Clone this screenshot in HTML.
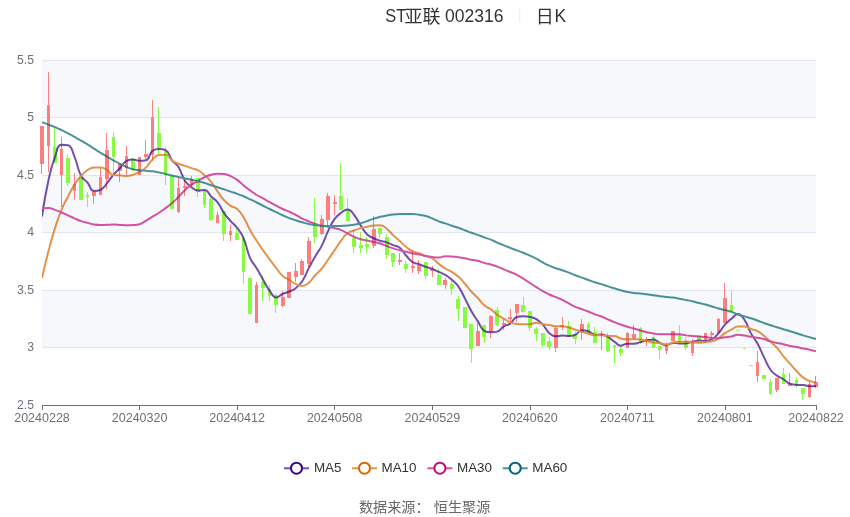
<!DOCTYPE html>
<html lang="zh"><head><meta charset="utf-8"><title>ST亚联 002316 日K</title>
<style>html,body{margin:0;padding:0;background:#fff}body{width:850px;height:517px;overflow:hidden;font-family:"Liberation Sans",sans-serif}svg{display:block}text{font-family:"Liberation Sans",sans-serif}#chart{position:relative;width:850px;height:517px}#chart svg{position:absolute;left:0;top:0}#labels{will-change:transform}</style></head><body>
<div id="chart"><svg id="plot" width="850" height="517" viewBox="0 0 850 517">
<rect width="850" height="517" fill="#fff"/>
<g fill="#f6f8fc">
<rect x="42" y="60.0" width="774" height="57.5"/>
<rect x="42" y="175.0" width="774" height="57.5"/>
<rect x="42" y="290.0" width="774" height="57.5"/>
</g>
<g stroke="#e0e6f1" stroke-width="1" shape-rendering="crispEdges">
<line x1="42" x2="816" y1="60.5" y2="60.5"/>
<line x1="42" x2="816" y1="117.5" y2="117.5"/>
<line x1="42" x2="816" y1="175.5" y2="175.5"/>
<line x1="42" x2="816" y1="232.5" y2="232.5"/>
<line x1="42" x2="816" y1="290.5" y2="290.5"/>
<line x1="42" x2="816" y1="347.5" y2="347.5"/>
</g>
<g fill="#fc7f7f"><rect x="41.0" y="126.0" width="1" height="48.0"/><rect x="40.0" y="126.0" width="4.0" height="38.0"/></g>
<g fill="#fc7f7f"><rect x="48.0" y="72.0" width="1" height="100.0"/><rect x="47.0" y="105.0" width="3.0" height="41.0"/></g>
<g fill="#88fa42"><rect x="54.0" y="127.0" width="1" height="36.0"/><rect x="53.0" y="147.0" width="4.0" height="16.0"/></g>
<g fill="#fc7f7f"><rect x="61.0" y="137.0" width="1" height="70.0"/><rect x="60.0" y="149.0" width="3.0" height="26.0"/></g>
<g fill="#88fa42"><rect x="67.0" y="155.0" width="1" height="31.0"/><rect x="66.0" y="158.0" width="4.0" height="25.0"/></g>
<g fill="#fc7f7f"><rect x="74.0" y="173.0" width="1" height="27.0"/><rect x="73.0" y="184.0" width="3.0" height="7.0"/></g>
<g fill="#88fa42"><rect x="79.0" y="177.0" width="4.0" height="23.0"/></g>
<g fill="#88fa42"><rect x="87.0" y="192.0" width="1" height="15.0"/><rect x="86.0" y="195.0" width="3.0" height="2.0"/></g>
<g fill="#fc7f7f"><rect x="93.0" y="191.0" width="1" height="13.0"/><rect x="92.0" y="192.0" width="4.0" height="4.0"/></g>
<g fill="#fc7f7f"><rect x="100.0" y="168.0" width="1" height="27.0"/><rect x="99.0" y="177.0" width="3.0" height="18.0"/></g>
<g fill="#fc7f7f"><rect x="106.0" y="133.0" width="1" height="56.0"/><rect x="105.0" y="150.0" width="4.0" height="29.0"/></g>
<g fill="#88fa42"><rect x="113.0" y="132.0" width="1" height="41.0"/><rect x="112.0" y="137.0" width="3.0" height="20.0"/></g>
<g fill="#fc7f7f"><rect x="119.0" y="164.0" width="1" height="18.0"/><rect x="118.0" y="164.0" width="4.0" height="7.0"/></g>
<g fill="#fc7f7f"><rect x="126.0" y="146.0" width="1" height="29.0"/><rect x="125.0" y="156.0" width="3.0" height="12.0"/></g>
<g fill="#88fa42"><rect x="132.0" y="158.0" width="1" height="13.0"/><rect x="131.0" y="159.0" width="4.0" height="11.0"/></g>
<g fill="#fc7f7f"><rect x="138.0" y="157.0" width="3.0" height="18.0"/></g>
<g fill="#fc7f7f"><rect x="145.0" y="140.0" width="1" height="19.0"/><rect x="144.0" y="154.0" width="4.0" height="3.0"/></g>
<g fill="#fc7f7f"><rect x="152.0" y="100.0" width="1" height="61.0"/><rect x="151.0" y="117.0" width="3.0" height="38.0"/></g>
<g fill="#88fa42"><rect x="158.0" y="107.0" width="1" height="47.0"/><rect x="157.0" y="133.0" width="4.0" height="15.0"/></g>
<g fill="#88fa42"><rect x="165.0" y="147.0" width="1" height="38.0"/><rect x="164.0" y="151.0" width="3.0" height="24.0"/></g>
<g fill="#88fa42"><rect x="170.0" y="176.0" width="4.0" height="33.0"/></g>
<g fill="#fc7f7f"><rect x="178.0" y="178.0" width="1" height="35.0"/><rect x="177.0" y="188.0" width="3.0" height="24.0"/></g>
<g fill="#fc7f7f"><rect x="184.0" y="180.0" width="1" height="16.0"/><rect x="183.0" y="186.0" width="4.0" height="2.0"/></g>
<g fill="#fc7f7f"><rect x="191.0" y="176.0" width="1" height="10.0"/><rect x="190.0" y="179.0" width="3.0" height="6.0"/></g>
<g fill="#88fa42"><rect x="197.0" y="178.0" width="1" height="19.0"/><rect x="196.0" y="178.0" width="4.0" height="14.0"/></g>
<g fill="#88fa42"><rect x="204.0" y="190.0" width="1" height="18.0"/><rect x="203.0" y="191.0" width="3.0" height="14.0"/></g>
<g fill="#88fa42"><rect x="210.0" y="198.0" width="1" height="23.0"/><rect x="209.0" y="199.0" width="4.0" height="21.0"/></g>
<g fill="#fc7f7f"><rect x="217.0" y="212.0" width="1" height="11.0"/><rect x="216.0" y="215.0" width="3.0" height="8.0"/></g>
<g fill="#88fa42"><rect x="223.0" y="211.0" width="1" height="30.0"/><rect x="222.0" y="211.0" width="4.0" height="23.0"/></g>
<g fill="#fc7f7f"><rect x="230.0" y="225.0" width="1" height="16.0"/><rect x="229.0" y="231.0" width="3.0" height="4.0"/></g>
<g fill="#88fa42"><rect x="236.0" y="228.0" width="1" height="12.0"/><rect x="235.0" y="233.0" width="4.0" height="7.0"/></g>
<g fill="#88fa42"><rect x="243.0" y="236.0" width="1" height="48.0"/><rect x="242.0" y="238.0" width="3.0" height="34.0"/></g>
<g fill="#88fa42"><rect x="248.0" y="278.0" width="4.0" height="36.0"/></g>
<g fill="#fc7f7f"><rect x="256.0" y="282.0" width="1" height="41.0"/><rect x="255.0" y="285.0" width="3.0" height="38.0"/></g>
<g fill="#88fa42"><rect x="262.0" y="276.0" width="1" height="25.0"/><rect x="261.0" y="282.0" width="4.0" height="6.0"/></g>
<g fill="#88fa42"><rect x="269.0" y="285.0" width="1" height="16.0"/><rect x="268.0" y="289.0" width="3.0" height="7.0"/></g>
<g fill="#88fa42"><rect x="275.0" y="294.0" width="1" height="19.0"/><rect x="274.0" y="295.0" width="4.0" height="10.0"/></g>
<g fill="#fc7f7f"><rect x="282.0" y="291.0" width="1" height="16.0"/><rect x="281.0" y="297.0" width="4.0" height="9.0"/></g>
<g fill="#fc7f7f"><rect x="287.0" y="272.0" width="4.0" height="26.0"/></g>
<g fill="#fc7f7f"><rect x="295.0" y="263.0" width="1" height="19.0"/><rect x="294.0" y="271.0" width="4.0" height="6.0"/></g>
<g fill="#fc7f7f"><rect x="301.0" y="259.0" width="1" height="16.0"/><rect x="300.0" y="261.0" width="4.0" height="14.0"/></g>
<g fill="#fc7f7f"><rect x="308.0" y="237.0" width="1" height="30.0"/><rect x="307.0" y="241.0" width="4.0" height="23.0"/></g>
<g fill="#88fa42"><rect x="314.0" y="198.0" width="1" height="45.0"/><rect x="313.0" y="226.0" width="4.0" height="11.0"/></g>
<g fill="#fc7f7f"><rect x="321.0" y="215.0" width="1" height="20.0"/><rect x="320.0" y="219.0" width="4.0" height="15.0"/></g>
<g fill="#fc7f7f"><rect x="327.0" y="193.0" width="1" height="32.0"/><rect x="326.0" y="196.0" width="4.0" height="24.0"/></g>
<g fill="#fc7f7f"><rect x="334.0" y="195.0" width="1" height="20.0"/><rect x="333.0" y="202.0" width="4.0" height="2.0"/></g>
<g fill="#88fa42"><rect x="340.0" y="163.0" width="1" height="47.0"/><rect x="339.0" y="196.0" width="4.0" height="14.0"/></g>
<g fill="#88fa42"><rect x="347.0" y="198.0" width="1" height="24.0"/><rect x="346.0" y="210.0" width="4.0" height="11.0"/></g>
<g fill="#88fa42"><rect x="353.0" y="229.0" width="1" height="24.0"/><rect x="352.0" y="238.0" width="4.0" height="9.0"/></g>
<g fill="#88fa42"><rect x="360.0" y="232.0" width="1" height="21.0"/><rect x="359.0" y="245.0" width="4.0" height="3.0"/></g>
<g fill="#88fa42"><rect x="366.0" y="237.0" width="1" height="17.0"/><rect x="365.0" y="244.0" width="4.0" height="3.0"/></g>
<g fill="#fc7f7f"><rect x="373.0" y="216.0" width="1" height="32.0"/><rect x="372.0" y="229.0" width="4.0" height="17.0"/></g>
<g fill="#88fa42"><rect x="379.0" y="227.0" width="1" height="11.0"/><rect x="378.0" y="228.0" width="4.0" height="6.0"/></g>
<g fill="#88fa42"><rect x="386.0" y="234.0" width="1" height="25.0"/><rect x="385.0" y="237.0" width="4.0" height="18.0"/></g>
<g fill="#88fa42"><rect x="392.0" y="253.0" width="1" height="14.0"/><rect x="391.0" y="253.0" width="4.0" height="9.0"/></g>
<g fill="#fc7f7f"><rect x="399.0" y="253.0" width="1" height="12.0"/><rect x="398.0" y="260.0" width="4.0" height="2.0"/></g>
<g fill="#88fa42"><rect x="405.0" y="261.0" width="1" height="12.0"/><rect x="404.0" y="264.0" width="4.0" height="5.0"/></g>
<g fill="#fc7f7f"><rect x="412.0" y="250.0" width="1" height="23.0"/><rect x="411.0" y="266.0" width="4.0" height="2.0"/></g>
<g fill="#fc7f7f"><rect x="418.0" y="260.0" width="1" height="14.0"/><rect x="417.0" y="265.0" width="4.0" height="6.0"/></g>
<g fill="#88fa42"><rect x="425.0" y="262.0" width="1" height="17.0"/><rect x="424.0" y="262.0" width="4.0" height="14.0"/></g>
<g fill="#fc7f7f"><rect x="432.0" y="266.0" width="1" height="11.0"/><rect x="430.0" y="269.0" width="4.0" height="2.0"/></g>
<g fill="#88fa42"><rect x="438.0" y="269.0" width="1" height="16.0"/><rect x="437.0" y="275.0" width="4.0" height="10.0"/></g>
<g fill="#fc7f7f"><rect x="445.0" y="278.0" width="1" height="11.0"/><rect x="443.0" y="280.0" width="4.0" height="5.0"/></g>
<g fill="#88fa42"><rect x="451.0" y="281.0" width="1" height="14.0"/><rect x="450.0" y="284.0" width="4.0" height="5.0"/></g>
<g fill="#88fa42"><rect x="458.0" y="296.0" width="1" height="25.0"/><rect x="456.0" y="299.0" width="4.0" height="10.0"/></g>
<g fill="#88fa42"><rect x="463.0" y="307.0" width="4.0" height="21.0"/></g>
<g fill="#88fa42"><rect x="471.0" y="324.0" width="1" height="39.0"/><rect x="469.0" y="324.0" width="4.0" height="25.0"/></g>
<g fill="#fc7f7f"><rect x="477.0" y="323.0" width="1" height="23.0"/><rect x="476.0" y="331.0" width="4.0" height="15.0"/></g>
<g fill="#88fa42"><rect x="484.0" y="325.0" width="1" height="18.0"/><rect x="482.0" y="325.0" width="4.0" height="12.0"/></g>
<g fill="#fc7f7f"><rect x="490.0" y="315.0" width="1" height="23.0"/><rect x="489.0" y="316.0" width="4.0" height="16.0"/></g>
<g fill="#88fa42"><rect x="497.0" y="307.0" width="1" height="19.0"/><rect x="495.0" y="310.0" width="4.0" height="15.0"/></g>
<g fill="#fc7f7f"><rect x="503.0" y="319.0" width="1" height="11.0"/><rect x="502.0" y="323.0" width="4.0" height="2.0"/></g>
<g fill="#fc7f7f"><rect x="510.0" y="309.0" width="1" height="14.0"/><rect x="508.0" y="317.0" width="4.0" height="2.0"/></g>
<g fill="#fc7f7f"><rect x="516.0" y="304.0" width="1" height="18.0"/><rect x="515.0" y="304.0" width="4.0" height="9.0"/></g>
<g fill="#88fa42"><rect x="523.0" y="297.0" width="1" height="16.0"/><rect x="521.0" y="305.0" width="4.0" height="7.0"/></g>
<g fill="#88fa42"><rect x="529.0" y="311.0" width="1" height="20.0"/><rect x="528.0" y="311.0" width="4.0" height="17.0"/></g>
<g fill="#88fa42"><rect x="536.0" y="327.0" width="1" height="14.0"/><rect x="534.0" y="329.0" width="4.0" height="5.0"/></g>
<g fill="#88fa42"><rect x="542.0" y="333.0" width="1" height="14.0"/><rect x="541.0" y="333.0" width="4.0" height="12.0"/></g>
<g fill="#88fa42"><rect x="549.0" y="337.0" width="1" height="13.0"/><rect x="547.0" y="341.0" width="4.0" height="6.0"/></g>
<g fill="#fc7f7f"><rect x="555.0" y="326.0" width="1" height="26.0"/><rect x="554.0" y="328.0" width="4.0" height="20.0"/></g>
<g fill="#fc7f7f"><rect x="562.0" y="317.0" width="1" height="13.0"/><rect x="560.0" y="325.0" width="4.0" height="2.0"/></g>
<g fill="#88fa42"><rect x="568.0" y="321.0" width="1" height="16.0"/><rect x="567.0" y="326.0" width="4.0" height="10.0"/></g>
<g fill="#88fa42"><rect x="575.0" y="332.0" width="1" height="12.0"/><rect x="573.0" y="334.0" width="4.0" height="5.0"/></g>
<g fill="#fc7f7f"><rect x="581.0" y="319.0" width="1" height="21.0"/><rect x="580.0" y="324.0" width="4.0" height="8.0"/></g>
<g fill="#88fa42"><rect x="588.0" y="322.0" width="1" height="11.0"/><rect x="587.0" y="324.0" width="3.0" height="9.0"/></g>
<g fill="#88fa42"><rect x="594.0" y="327.0" width="1" height="16.0"/><rect x="593.0" y="332.0" width="4.0" height="11.0"/></g>
<g fill="#fc7f7f"><rect x="601.0" y="331.0" width="1" height="19.0"/><rect x="600.0" y="334.0" width="3.0" height="2.0"/></g>
<g fill="#88fa42"><rect x="607.0" y="333.0" width="1" height="19.0"/><rect x="606.0" y="337.0" width="4.0" height="14.0"/></g>
<g fill="#88fa42"><rect x="614.0" y="345.0" width="1" height="18.0"/><rect x="613.0" y="345.0" width="3.0" height="3.0"/></g>
<g fill="#88fa42"><rect x="620.0" y="346.0" width="1" height="10.0"/><rect x="619.0" y="349.0" width="4.0" height="4.0"/></g>
<g fill="#fc7f7f"><rect x="627.0" y="332.0" width="1" height="16.0"/><rect x="626.0" y="333.0" width="3.0" height="15.0"/></g>
<g fill="#fc7f7f"><rect x="633.0" y="325.0" width="1" height="14.0"/><rect x="632.0" y="334.0" width="4.0" height="4.0"/></g>
<g fill="#88fa42"><rect x="640.0" y="327.0" width="1" height="17.0"/><rect x="639.0" y="328.0" width="3.0" height="15.0"/></g>
<g fill="#fc7f7f"><rect x="646.0" y="337.0" width="1" height="9.0"/><rect x="645.0" y="339.0" width="4.0" height="2.0"/></g>
<g fill="#88fa42"><rect x="653.0" y="335.0" width="1" height="13.0"/><rect x="652.0" y="337.0" width="3.0" height="11.0"/></g>
<g fill="#88fa42"><rect x="659.0" y="346.0" width="1" height="13.0"/><rect x="658.0" y="346.0" width="4.0" height="4.0"/></g>
<g fill="#fc7f7f"><rect x="666.0" y="343.0" width="1" height="11.0"/><rect x="665.0" y="346.0" width="3.0" height="5.0"/></g>
<g fill="#fc7f7f"><rect x="671.0" y="331.0" width="4.0" height="10.0"/></g>
<g fill="#88fa42"><rect x="679.0" y="325.0" width="1" height="18.0"/><rect x="678.0" y="335.0" width="3.0" height="7.0"/></g>
<g fill="#88fa42"><rect x="685.0" y="337.0" width="1" height="13.0"/><rect x="684.0" y="341.0" width="4.0" height="7.0"/></g>
<g fill="#fc7f7f"><rect x="692.0" y="339.0" width="1" height="17.0"/><rect x="691.0" y="342.0" width="3.0" height="11.0"/></g>
<g fill="#88fa42"><rect x="698.0" y="335.0" width="1" height="8.0"/><rect x="697.0" y="336.0" width="4.0" height="4.0"/></g>
<g fill="#fc7f7f"><rect x="705.0" y="333.0" width="1" height="10.0"/><rect x="704.0" y="333.0" width="3.0" height="7.0"/></g>
<g fill="#fc7f7f"><rect x="711.0" y="331.0" width="1" height="7.0"/><rect x="710.0" y="333.0" width="4.0" height="2.0"/></g>
<g fill="#fc7f7f"><rect x="718.0" y="318.0" width="1" height="15.0"/><rect x="717.0" y="319.0" width="3.0" height="14.0"/></g>
<g fill="#fc7f7f"><rect x="724.0" y="283.0" width="1" height="40.0"/><rect x="723.0" y="298.0" width="4.0" height="25.0"/></g>
<g fill="#88fa42"><rect x="731.0" y="291.0" width="1" height="21.0"/><rect x="730.0" y="305.0" width="3.0" height="6.0"/></g>
<g fill="#88fa42"><rect x="736.0" y="329.7" width="4.0" height="1.0"/></g>
<g fill="#88fa42"><rect x="743.0" y="348.1" width="3.0" height="1.0"/></g>
<g fill="#88fa42"><rect x="749.0" y="365.2" width="4.0" height="1.0"/></g>
<g fill="#fc7f7f"><rect x="757.0" y="351.0" width="1" height="31.0"/><rect x="756.0" y="362.0" width="3.0" height="14.0"/></g>
<g fill="#88fa42"><rect x="762.0" y="375.0" width="4.0" height="4.0"/></g>
<g fill="#88fa42"><rect x="770.0" y="379.0" width="1" height="16.0"/><rect x="769.0" y="382.0" width="3.0" height="12.0"/></g>
<g fill="#fc7f7f"><rect x="776.0" y="378.0" width="1" height="14.0"/><rect x="775.0" y="378.0" width="4.0" height="12.0"/></g>
<g fill="#88fa42"><rect x="783.0" y="368.0" width="1" height="16.0"/><rect x="782.0" y="374.0" width="3.0" height="10.0"/></g>
<g fill="#fc7f7f"><rect x="789.0" y="373.0" width="1" height="13.0"/><rect x="788.0" y="384.0" width="4.0" height="2.0"/></g>
<g fill="#88fa42"><rect x="796.0" y="377.0" width="1" height="11.0"/><rect x="795.0" y="380.0" width="3.0" height="5.0"/></g>
<g fill="#88fa42"><rect x="802.0" y="388.0" width="1" height="12.0"/><rect x="801.0" y="388.0" width="4.0" height="6.0"/></g>
<g fill="#fc7f7f"><rect x="809.0" y="381.0" width="1" height="17.0"/><rect x="808.0" y="384.0" width="3.0" height="13.0"/></g>
<g fill="#fc7f7f"><rect x="815.0" y="376.0" width="1" height="12.0"/><rect x="814.0" y="382.0" width="4.0" height="5.0"/></g>
<clipPath id="cp"><rect x="42" y="55" width="774.5" height="355"/></clipPath>
<g fill="none" stroke-width="2" stroke-linejoin="round" stroke-linecap="butt" clip-path="url(#cp)" opacity="0.7">
<path stroke="#3a0589" d="M42.00 216.50C42.00 216.50 44.56 198.13 48.50 180.09C51.06 168.38 50.89 168.19 55.01 156.98C57.39 150.50 57.09 144.70 61.51 144.70C63.59 144.70 65.88 144.70 68.02 145.22C72.38 146.28 71.92 150.74 74.52 156.84C78.42 165.97 76.62 166.96 81.03 175.68C83.12 179.83 84.48 178.96 87.53 182.58C90.98 186.68 90.01 191.12 94.03 191.12C96.51 191.12 97.85 191.12 100.54 189.90C104.35 188.17 104.01 186.70 107.04 183.12C110.52 179.02 110.04 178.61 113.55 174.54C116.55 171.05 116.88 171.34 120.05 168.00C123.38 164.49 122.70 162.85 126.55 160.84C129.20 159.46 129.81 159.46 133.06 159.46C136.31 159.46 136.28 160.84 139.56 160.84C142.79 160.84 143.71 160.84 146.07 160.26C150.22 159.24 148.46 153.57 152.57 150.76C154.97 149.12 155.79 149.12 159.08 149.12C162.30 149.12 163.30 149.12 165.58 150.10C169.80 151.91 168.41 155.58 172.08 160.40C174.92 164.12 176.11 163.26 178.59 167.18C182.61 173.53 181.01 174.66 185.09 180.94C187.51 184.67 188.01 184.54 191.60 187.20C194.51 189.37 194.66 190.60 198.10 190.60C201.17 190.60 201.90 189.94 204.61 189.94C208.40 189.94 207.78 193.26 211.11 196.42C214.29 199.45 214.96 198.88 217.61 202.32C221.46 207.30 220.50 208.05 224.12 213.26C227.00 217.42 227.26 217.26 230.62 221.06C233.76 224.61 234.28 224.19 237.13 227.96C240.79 232.81 241.23 232.73 243.63 238.30C247.73 247.80 246.02 248.61 250.13 258.10C252.53 263.62 253.51 263.13 256.64 268.32C260.02 273.92 259.87 274.01 263.14 279.68C266.37 285.27 265.86 285.66 269.65 290.84C272.37 294.56 272.52 297.48 276.15 297.48C279.03 297.48 279.32 295.56 282.66 294.02C285.82 292.56 285.98 292.91 289.16 291.48C292.48 289.99 292.84 290.40 295.66 288.18C299.34 285.30 299.59 285.20 302.17 281.28C306.09 275.31 305.32 274.79 308.67 268.40C311.83 262.38 311.78 262.35 315.18 256.46C318.29 251.07 318.87 251.38 321.68 245.84C325.37 238.56 324.63 238.18 328.18 230.82C331.13 224.72 330.77 224.36 334.69 218.92C337.28 215.33 337.60 215.34 341.19 212.76C344.10 210.67 344.71 209.58 347.70 209.58C351.21 209.58 351.53 211.81 354.20 215.06C358.04 219.73 357.30 220.34 360.71 225.42C363.81 230.04 363.33 230.63 367.21 234.46C369.83 237.04 370.34 236.61 373.71 238.24C376.84 239.76 376.90 239.71 380.22 240.76C383.40 241.76 383.56 241.28 386.72 242.34C390.07 243.47 389.95 243.79 393.23 245.14C396.46 246.47 397.11 245.56 399.73 247.70C403.61 250.87 402.77 251.92 406.24 255.76C409.28 259.13 409.02 259.73 412.74 262.12C415.52 263.90 416.06 262.93 419.24 264.10C422.56 265.32 422.43 265.69 425.75 266.90C428.93 268.06 429.10 267.61 432.25 268.84C435.60 270.14 435.48 270.45 438.76 271.96C441.99 273.46 442.23 273.04 445.26 274.86C448.73 276.94 448.71 277.08 451.76 279.76C455.22 282.80 455.63 282.57 458.27 286.30C462.13 291.75 461.63 292.15 464.77 298.12C468.13 304.50 467.73 304.73 471.28 311.00C474.24 316.25 474.47 316.12 477.78 321.16C480.98 326.04 480.15 328.29 484.29 330.84C486.65 332.30 487.51 332.30 490.79 332.30C494.01 332.30 494.44 332.30 497.29 331.64C500.94 330.80 500.28 328.60 503.80 326.42C506.79 324.57 507.48 325.63 510.30 323.58C513.99 320.91 513.00 318.06 516.81 316.98C519.50 316.22 520.06 316.22 523.31 316.22C526.56 316.22 526.64 316.22 529.82 316.88C533.15 317.57 533.42 317.35 536.32 319.08C539.93 321.23 539.94 321.51 542.82 324.64C546.44 328.55 545.43 329.69 549.33 333.16C551.94 335.48 552.43 336.22 555.83 336.22C558.93 336.22 559.08 335.56 562.34 335.56C565.58 335.56 565.61 336.00 568.84 336.00C572.12 336.00 572.39 336.00 575.34 334.82C578.89 333.40 578.29 330.26 581.85 330.26C584.80 330.26 585.31 330.26 588.35 331.26C591.81 332.39 591.38 334.92 594.86 334.92C597.89 334.92 598.21 334.52 601.36 334.52C604.71 334.52 604.85 335.26 607.87 336.90C611.36 338.80 611.05 339.36 614.37 341.60C617.55 343.75 617.43 345.68 620.87 345.68C623.93 345.68 624.05 343.66 627.38 343.66C630.56 343.66 630.68 343.70 633.88 343.70C637.18 343.70 637.14 342.94 640.39 342.14C643.64 341.33 643.61 341.16 646.89 340.48C650.11 339.81 650.32 339.44 653.39 339.44C656.82 339.44 656.55 341.34 659.90 342.82C663.06 344.21 663.15 345.18 666.40 345.18C669.65 345.18 669.56 342.88 672.91 342.88C676.07 342.88 676.15 343.38 679.41 343.38C682.66 343.38 682.71 343.38 685.92 343.38C689.22 343.38 689.15 342.47 692.42 341.76C695.65 341.06 695.65 340.56 698.92 340.56C702.15 340.56 702.23 340.92 705.43 340.92C708.74 340.92 709.08 340.78 711.93 339.14C715.59 337.04 715.57 336.65 718.44 333.44C722.08 329.37 721.31 328.66 724.94 324.58C727.81 321.35 728.09 321.57 731.45 318.82C734.59 316.23 734.82 313.90 737.95 313.90C741.32 313.90 742.06 316.20 744.45 319.78C748.57 325.94 747.35 326.78 750.96 333.38C753.85 338.67 754.56 338.27 757.46 343.56C761.07 350.13 760.63 350.37 763.97 357.10C767.13 363.49 766.44 364.05 770.47 369.80C772.95 373.34 773.45 373.12 776.97 375.68C779.95 377.84 780.32 377.30 783.48 379.24C786.83 381.30 786.45 382.21 789.98 383.68C792.95 384.92 793.21 384.92 796.49 384.92C799.71 384.92 799.77 384.92 802.99 384.92C806.27 384.92 806.21 386.18 809.50 386.18C812.72 386.18 816.00 385.94 816.00 385.94"/>
<path stroke="#d86600" d="M42.00 278.00C42.00 278.00 45.00 264.41 48.50 250.95C51.50 239.46 51.41 239.42 55.01 228.10C57.92 218.94 57.86 218.88 61.51 209.99C64.36 203.05 64.60 203.14 68.02 196.45C71.11 190.40 70.89 190.24 74.52 184.52C77.39 180.01 77.45 179.96 81.03 175.99C83.95 172.74 83.90 172.43 87.53 170.09C90.41 168.24 90.67 167.64 94.03 167.60C97.17 167.56 97.39 167.56 100.54 167.56C103.90 167.56 104.08 168.26 107.04 169.98C110.58 172.03 109.90 174.88 113.55 175.11C116.41 175.29 116.81 175.11 120.05 175.29C123.31 175.47 123.33 175.98 126.55 175.98C129.83 175.98 129.90 175.65 133.06 174.68C136.41 173.65 136.51 173.69 139.56 171.98C143.01 170.05 143.24 170.14 146.07 167.40C149.74 163.84 148.88 162.91 152.57 159.38C155.38 156.70 155.52 155.22 159.08 154.98C162.02 154.78 162.80 154.78 165.58 154.78C169.31 154.78 168.52 158.17 172.08 160.62C175.02 162.64 175.25 162.38 178.59 163.72C181.76 164.99 181.85 164.74 185.09 165.85C188.36 166.96 188.34 167.03 191.60 168.16C194.84 169.28 195.12 168.74 198.10 170.35C201.62 172.25 201.58 172.50 204.61 175.17C208.08 178.23 208.24 178.17 211.11 181.80C214.75 186.40 214.22 186.82 217.61 191.63C220.72 196.03 220.50 196.28 224.12 200.23C227.00 203.38 227.09 203.46 230.62 205.83C233.59 207.82 234.50 206.62 237.13 208.95C241.00 212.38 240.87 212.85 243.63 217.36C247.37 223.48 246.64 223.92 250.13 230.21C253.15 235.63 253.27 235.57 256.64 240.79C259.78 245.65 259.83 245.63 263.14 250.37C266.33 254.93 266.33 254.93 269.65 259.40C272.83 263.69 272.86 263.68 276.15 267.89C279.36 272.01 278.88 272.58 282.66 276.06C285.39 278.58 285.93 277.95 289.16 279.90C292.43 281.88 292.23 282.30 295.66 283.93C298.73 285.38 299.00 286.06 302.17 286.06C305.51 286.06 305.96 285.20 308.67 282.94C312.46 279.79 311.79 278.96 315.18 275.24C318.29 271.82 318.74 272.21 321.68 268.66C325.25 264.34 324.96 264.10 328.18 259.50C331.47 254.82 331.45 254.81 334.69 250.10C337.96 245.35 337.71 245.16 341.19 240.58C344.21 236.62 343.87 236.00 347.70 233.02C350.38 230.93 350.93 231.68 354.20 230.45C357.43 229.23 357.39 229.08 360.71 228.12C363.90 227.20 363.95 227.35 367.21 226.69C370.45 226.04 370.44 225.84 373.71 225.50C376.94 225.17 377.17 225.17 380.22 225.17C383.68 225.17 383.83 226.45 386.72 228.70C390.34 231.51 389.88 232.09 393.23 235.28C396.38 238.28 396.49 238.16 399.73 241.08C403.00 244.02 402.80 244.27 406.24 247.00C409.31 249.45 409.24 249.76 412.74 251.44C415.74 252.87 416.07 252.10 419.24 253.22C422.58 254.39 422.45 254.74 425.75 256.02C428.95 257.26 429.36 256.52 432.25 258.27C435.86 260.44 435.39 261.21 438.76 263.86C441.89 266.32 441.88 266.39 445.26 268.49C448.38 270.43 448.65 269.99 451.76 271.93C455.15 274.04 455.29 273.95 458.27 276.60C461.79 279.73 461.66 279.92 464.77 283.48C468.16 287.36 467.84 287.64 471.28 291.48C474.35 294.91 474.62 294.66 477.78 298.01C481.13 301.57 480.63 302.13 484.29 305.30C487.14 307.78 487.73 307.04 490.79 309.30C494.23 311.83 493.84 312.38 497.29 314.88C500.34 317.08 500.53 316.83 503.80 318.71C507.03 320.57 506.87 321.00 510.30 322.37C513.38 323.60 513.51 323.55 516.81 323.91C520.02 324.26 520.06 324.26 523.31 324.26C526.56 324.26 526.61 324.26 529.82 324.26C533.11 324.26 533.06 322.75 536.32 322.75C539.56 322.75 539.55 323.53 542.82 324.11C546.06 324.69 546.08 324.54 549.33 325.07C552.59 325.60 552.55 326.22 555.83 326.22C559.06 326.22 559.12 326.22 562.34 326.22C565.62 326.22 565.64 326.68 568.84 327.54C572.15 328.43 572.08 328.68 575.34 329.73C578.58 330.77 578.60 330.71 581.85 331.71C585.10 332.71 585.07 332.85 588.35 333.74C591.57 334.61 591.56 335.22 594.86 335.24C598.07 335.26 598.12 335.24 601.36 335.26C604.62 335.28 604.61 335.79 607.87 335.86C611.11 335.93 611.23 335.86 614.37 335.93C617.74 336.01 617.52 337.60 620.87 338.47C624.02 339.28 624.11 339.29 627.38 339.29C630.62 339.29 630.63 339.11 633.88 339.11C637.14 339.11 637.17 339.11 640.39 339.52C643.68 339.94 643.64 340.28 646.89 341.04C650.14 341.80 650.11 342.00 653.39 342.56C656.61 343.10 656.67 342.77 659.90 343.24C663.17 343.71 663.19 344.44 666.40 344.44C669.70 344.44 669.59 343.11 672.91 342.51C676.10 341.93 676.16 342.21 679.41 341.93C682.66 341.66 682.67 341.41 685.92 341.41C689.18 341.41 689.16 341.92 692.42 342.29C695.66 342.65 695.68 342.87 698.92 342.87C702.19 342.87 702.17 342.30 705.43 341.90C708.67 341.50 708.82 341.90 711.93 341.26C715.32 340.56 715.45 340.27 718.44 338.41C721.95 336.22 721.49 335.49 724.94 333.17C727.99 331.13 728.16 331.37 731.45 329.69C734.67 328.04 734.52 326.52 737.95 326.52C741.03 326.52 741.30 326.52 744.45 326.61C747.81 326.71 747.69 327.83 750.96 328.98C754.20 330.12 754.45 329.62 757.46 331.19C760.95 333.02 760.89 333.26 763.97 335.78C767.40 338.59 767.19 338.84 770.47 341.85C773.70 344.82 774.06 344.48 776.97 347.73C780.56 351.71 780.07 352.15 783.48 356.31C786.58 360.09 786.74 359.96 789.98 363.62C793.25 367.31 793.11 367.44 796.49 371.01C799.61 374.31 799.41 374.63 802.99 377.36C805.91 379.59 806.08 379.56 809.50 380.93C812.59 382.17 816.00 382.59 816.00 382.59"/>
<path stroke="#c20c7c" d="M42.00 208.20C42.00 208.20 45.32 207.96 48.50 207.96C51.82 207.96 51.81 208.78 55.01 209.90C58.31 211.05 58.29 211.13 61.51 212.49C64.79 213.87 64.78 213.91 68.02 215.37C71.28 216.85 71.25 216.92 74.52 218.37C77.75 219.81 77.69 220.02 81.03 221.17C84.19 222.26 84.28 222.01 87.53 222.85C90.78 223.69 90.73 224.02 94.03 224.54C97.24 225.03 97.28 225.03 100.54 225.03C103.79 225.03 103.79 224.89 107.04 224.76C110.29 224.63 110.30 224.52 113.55 224.52C116.80 224.52 116.80 224.71 120.05 224.91C123.30 225.10 123.30 225.29 126.55 225.29C129.80 225.29 129.82 225.29 133.06 225.10C136.32 224.91 136.52 225.10 139.56 224.26C143.03 223.29 142.84 222.45 146.07 220.56C149.34 218.64 149.32 218.61 152.57 216.65C155.83 214.69 155.91 214.81 159.08 212.72C162.41 210.52 162.37 210.45 165.58 208.08C168.87 205.64 168.99 205.77 172.08 203.09C175.49 200.14 175.40 200.03 178.59 196.82C181.91 193.48 181.64 193.20 185.09 190.01C188.14 187.19 188.20 187.19 191.60 184.81C194.70 182.63 194.82 182.79 198.10 180.88C201.32 179.00 201.23 178.79 204.61 177.22C207.74 175.76 207.78 175.73 211.11 174.81C214.28 173.94 214.34 173.64 217.61 173.64C220.84 173.64 220.94 173.64 224.12 173.96C227.45 174.30 227.53 174.66 230.62 176.06C234.03 177.60 234.08 177.66 237.13 179.85C240.58 182.33 240.32 182.70 243.63 185.40C246.82 188.00 246.82 188.01 250.13 190.45C253.32 192.80 253.27 192.90 256.64 194.98C259.78 196.91 259.91 196.68 263.14 198.47C266.42 200.28 266.37 200.36 269.65 202.18C272.88 203.98 272.88 203.98 276.15 205.70C279.38 207.40 279.34 207.49 282.66 209.02C285.85 210.50 285.95 210.27 289.16 211.70C292.45 213.18 292.47 213.17 295.66 214.85C298.97 216.59 298.83 216.88 302.17 218.54C305.33 220.12 305.39 220.02 308.67 221.34C311.89 222.63 311.90 222.63 315.18 223.77C318.40 224.89 318.36 225.11 321.68 225.87C324.87 226.60 324.96 226.16 328.18 226.74C331.46 227.33 331.46 227.39 334.69 228.22C337.96 229.07 338.08 228.81 341.19 230.09C344.59 231.48 344.43 231.87 347.70 233.57C350.93 235.25 350.87 235.39 354.20 236.86C357.38 238.26 357.38 238.35 360.71 239.29C363.88 240.20 363.96 239.91 367.21 240.57C370.47 241.23 370.48 241.19 373.71 241.93C376.98 242.68 377.03 242.53 380.22 243.54C383.54 244.59 383.46 244.83 386.72 246.05C389.96 247.26 389.94 247.34 393.23 248.38C396.44 249.41 396.47 249.33 399.73 250.19C402.97 251.05 402.99 251.00 406.24 251.82C409.49 252.65 409.45 252.82 412.74 253.51C415.96 254.17 416.01 253.90 419.24 254.52C422.52 255.16 422.47 255.40 425.75 256.02C428.98 256.64 428.99 256.65 432.25 257.01C435.49 257.36 435.53 257.43 438.76 257.43C442.03 257.43 441.98 256.30 445.26 256.30C448.49 256.30 448.52 256.30 451.76 256.43C455.03 256.56 455.03 256.68 458.27 257.13C461.53 257.58 461.54 257.58 464.77 258.22C468.04 258.86 468.01 259.03 471.28 259.69C474.51 260.33 474.59 260.01 477.78 260.82C481.09 261.66 480.99 262.06 484.29 262.99C487.49 263.89 487.58 263.59 490.79 264.48C494.08 265.40 494.09 265.41 497.29 266.61C500.60 267.85 500.54 268.00 503.80 269.36C507.04 270.70 507.07 270.64 510.30 272.01C513.57 273.39 513.66 273.22 516.81 274.85C520.16 276.58 520.10 276.72 523.31 278.71C526.60 280.76 526.55 280.84 529.82 282.94C533.06 285.02 533.06 285.01 536.32 287.08C539.57 289.14 539.49 289.28 542.82 291.19C545.99 293.00 546.01 293.00 549.33 294.53C552.51 296.00 552.58 295.86 555.83 297.18C559.08 298.49 559.18 298.29 562.34 299.79C565.68 301.38 565.58 301.60 568.84 303.37C572.08 305.13 571.98 305.36 575.34 306.86C578.49 308.27 578.60 308.02 581.85 309.18C585.10 310.35 585.14 310.26 588.35 311.53C591.64 312.83 591.55 313.07 594.86 314.33C598.06 315.55 598.16 315.27 601.36 316.50C604.67 317.77 604.61 317.92 607.87 319.33C611.11 320.73 611.10 320.76 614.37 322.10C617.60 323.43 617.59 323.48 620.87 324.66C624.09 325.83 624.09 325.84 627.38 326.80C630.60 327.73 630.66 327.53 633.88 328.45C637.16 329.40 637.11 329.59 640.39 330.54C643.61 331.47 643.62 331.47 646.89 332.22C650.12 332.96 650.12 333.01 653.39 333.52C656.63 334.02 656.64 334.25 659.90 334.25C663.14 334.25 663.15 334.15 666.40 334.15C669.66 334.15 669.66 334.15 672.91 334.16C676.16 334.17 676.18 334.16 679.41 334.31C682.68 334.46 682.65 334.96 685.92 335.37C689.15 335.77 689.17 335.65 692.42 335.93C695.67 336.22 695.67 336.23 698.92 336.51C702.18 336.79 702.19 336.68 705.43 337.05C708.69 337.43 708.66 337.77 711.93 338.00C715.17 338.24 715.20 338.24 718.44 338.24C721.71 338.24 721.68 337.66 724.94 337.22C728.18 336.77 728.23 337.06 731.45 336.46C734.74 335.85 734.66 334.79 737.95 334.79C741.16 334.79 741.23 334.99 744.45 335.50C747.73 336.02 747.69 336.29 750.96 336.85C754.19 337.41 754.23 337.17 757.46 337.72C760.73 338.28 760.78 338.17 763.97 339.07C767.28 340.00 767.16 340.41 770.47 341.38C773.67 342.33 773.71 342.18 776.97 342.90C780.22 343.61 780.25 343.49 783.48 344.24C786.75 345.00 786.70 345.20 789.98 345.92C793.21 346.62 793.25 346.40 796.49 347.07C799.76 347.75 799.72 347.95 802.99 348.60C806.22 349.24 806.27 348.99 809.50 349.65C812.78 350.33 816.00 351.29 816.00 351.29"/>
<path stroke="#006470" d="M42.00 122.30C42.00 122.30 45.26 123.45 48.50 124.65C51.77 125.86 51.80 125.79 55.01 127.12C58.30 128.49 58.29 128.52 61.51 130.06C64.80 131.62 64.81 131.61 68.02 133.32C71.31 135.08 71.27 135.16 74.52 136.99C77.77 138.82 77.79 138.77 81.03 140.63C84.30 142.50 84.31 142.48 87.53 144.45C90.82 146.47 90.78 146.53 94.03 148.60C97.29 150.68 97.26 150.72 100.54 152.75C103.76 154.75 103.76 154.76 107.04 156.67C110.27 158.55 110.29 158.52 113.55 160.34C116.79 162.15 116.74 162.25 120.05 163.93C123.24 165.56 123.25 165.58 126.55 166.96C129.75 168.28 129.72 168.49 133.06 169.33C136.22 170.13 136.30 169.89 139.56 170.23C142.80 170.58 142.82 170.44 146.07 170.71C149.32 170.99 149.34 170.91 152.57 171.34C155.84 171.77 155.84 171.79 159.08 172.44C162.35 173.10 162.33 173.17 165.58 173.96C168.84 174.74 168.82 174.80 172.08 175.58C175.33 176.35 175.33 176.34 178.59 177.05C181.84 177.76 181.84 177.76 185.09 178.43C188.34 179.09 188.36 178.99 191.60 179.70C194.87 180.43 194.86 180.46 198.10 181.30C201.36 182.14 201.38 182.09 204.61 183.06C207.88 184.05 207.85 184.15 211.11 185.21C214.36 186.27 214.36 186.27 217.61 187.31C220.86 188.35 220.88 188.30 224.12 189.38C227.38 190.46 227.36 190.52 230.62 191.64C233.87 192.74 233.89 192.67 237.13 193.82C240.40 194.98 240.44 194.89 243.63 196.24C246.94 197.65 246.89 197.77 250.13 199.32C253.39 200.88 253.40 200.88 256.64 202.48C259.90 204.09 259.89 204.11 263.14 205.75C266.39 207.38 266.38 207.41 269.65 209.02C272.89 210.62 272.90 210.59 276.15 212.16C279.40 213.72 279.38 213.78 282.66 215.27C285.88 216.74 285.85 216.82 289.16 218.09C292.36 219.31 292.40 219.21 295.66 220.25C298.90 221.29 298.90 221.30 302.17 222.24C305.40 223.16 305.39 223.25 308.67 223.97C311.89 224.67 311.91 224.63 315.18 225.09C318.41 225.54 318.42 225.53 321.68 225.79C324.93 226.04 324.93 226.10 328.18 226.10C331.44 226.10 331.44 226.10 334.69 226.10C337.94 226.10 337.94 226.04 341.19 225.88C344.45 225.72 344.45 225.75 347.70 225.47C350.96 225.20 350.99 225.35 354.20 224.78C357.49 224.20 357.49 224.09 360.71 223.17C363.99 222.23 363.99 222.21 367.21 221.07C370.49 219.91 370.41 219.66 373.71 218.58C376.91 217.53 376.94 217.59 380.22 216.79C383.45 216.00 383.45 216.00 386.72 215.41C389.96 214.83 389.96 214.78 393.23 214.44C396.46 214.11 396.48 214.21 399.73 214.07C402.98 213.94 402.98 213.90 406.24 213.90C409.49 213.90 409.50 213.90 412.74 213.95C416.01 213.99 416.00 214.33 419.24 214.85C422.51 215.37 422.57 215.17 425.75 216.04C429.08 216.96 429.05 217.11 432.25 218.43C435.56 219.79 435.42 220.15 438.76 221.41C441.92 222.62 442.04 222.31 445.26 223.38C448.54 224.46 448.49 224.59 451.76 225.70C455.00 226.80 455.04 226.68 458.27 227.80C461.55 228.93 461.53 228.98 464.77 230.20C468.03 231.43 468.00 231.50 471.28 232.69C474.51 233.86 474.54 233.77 477.78 234.92C481.05 236.09 481.03 236.16 484.29 237.35C487.53 238.53 487.59 238.38 490.79 239.66C494.09 240.99 494.03 241.15 497.29 242.58C500.53 243.99 500.53 244.01 503.80 245.35C507.03 246.67 507.04 246.63 510.30 247.89C513.55 249.14 513.55 249.15 516.81 250.36C520.05 251.56 520.10 251.44 523.31 252.73C526.61 254.05 526.58 254.12 529.82 255.58C533.08 257.05 533.15 256.93 536.32 258.58C539.65 260.32 539.52 260.57 542.82 262.38C546.03 264.13 546.00 264.20 549.33 265.69C552.51 267.13 552.53 267.10 555.83 268.24C559.04 269.34 559.12 269.09 562.34 270.18C565.63 271.30 565.59 271.40 568.84 272.65C572.10 273.91 572.08 273.96 575.34 275.20C578.59 276.44 578.59 276.43 581.85 277.62C585.09 278.80 585.10 278.80 588.35 279.96C591.60 281.12 591.58 281.20 594.86 282.26C598.08 283.30 598.14 283.13 601.36 284.16C604.64 285.21 604.59 285.37 607.87 286.42C611.09 287.45 611.13 287.33 614.37 288.31C617.63 289.30 617.59 289.44 620.87 290.34C624.10 291.23 624.10 291.25 627.38 291.90C630.61 292.55 630.61 292.56 633.88 292.94C637.12 293.32 637.15 293.08 640.39 293.42C643.65 293.77 643.64 293.85 646.89 294.32C650.15 294.80 650.14 294.85 653.39 295.32C656.64 295.80 656.64 295.83 659.90 296.23C663.14 296.63 663.15 296.60 666.40 296.92C669.65 297.23 669.67 297.06 672.91 297.49C676.18 297.93 676.16 298.04 679.41 298.65C682.67 299.26 682.67 299.27 685.92 299.92C689.17 300.58 689.18 300.53 692.42 301.27C695.69 302.03 695.67 302.12 698.92 302.93C702.17 303.74 702.20 303.66 705.43 304.53C708.70 305.41 708.69 305.44 711.93 306.43C715.20 307.41 715.16 307.55 718.44 308.48C721.66 309.38 721.69 309.26 724.94 310.08C728.20 310.90 728.29 310.66 731.45 311.77C734.79 312.95 734.60 313.49 737.95 314.66C741.11 315.77 741.22 315.43 744.45 316.34C747.73 317.26 747.72 317.28 750.96 318.32C754.23 319.38 754.23 319.39 757.46 320.55C760.73 321.71 760.71 321.78 763.97 322.97C767.21 324.15 767.19 324.21 770.47 325.28C773.69 326.34 773.73 326.22 776.97 327.22C780.24 328.22 780.22 328.28 783.48 329.28C786.72 330.28 786.74 330.23 789.98 331.21C793.24 332.19 793.25 332.17 796.49 333.20C799.75 334.24 799.72 334.35 802.99 335.35C806.22 336.33 806.25 336.24 809.50 337.16C812.75 338.08 816.00 339.04 816.00 339.04"/>
</g>
<g stroke="#6e7079" stroke-width="1" shape-rendering="crispEdges">
<line x1="42" x2="817" y1="405.5" y2="405.5"/>
<line x1="42.5" x2="42.5" y1="405" y2="410"/>
<line x1="139.5" x2="139.5" y1="405" y2="410"/>
<line x1="237.5" x2="237.5" y1="405" y2="410"/>
<line x1="334.5" x2="334.5" y1="405" y2="410"/>
<line x1="432.5" x2="432.5" y1="405" y2="410"/>
<line x1="530.5" x2="530.5" y1="405" y2="410"/>
<line x1="627.5" x2="627.5" y1="405" y2="410"/>
<line x1="725.5" x2="725.5" y1="405" y2="410"/>
<line x1="816.5" x2="816.5" y1="405" y2="410"/>
</g>
</svg>
<svg id="labels" width="850" height="517" viewBox="0 0 850 517">
<g fill="#6e7079" font-size="12.2">
<text x="34" y="63.5" text-anchor="end">5.5</text>
<text x="34" y="121.0" text-anchor="end">5</text>
<text x="34" y="178.5" text-anchor="end">4.5</text>
<text x="34" y="236.0" text-anchor="end">4</text>
<text x="34" y="293.5" text-anchor="end">3.5</text>
<text x="34" y="351.0" text-anchor="end">3</text>
<text x="34" y="408.5" text-anchor="end">2.5</text>
<text x="42.0" y="421.6" font-size="12.5" text-anchor="middle">20240228</text>
<text x="139.6" y="421.6" font-size="12.5" text-anchor="middle">20240320</text>
<text x="237.1" y="421.6" font-size="12.5" text-anchor="middle">20240412</text>
<text x="334.7" y="421.6" font-size="12.5" text-anchor="middle">20240508</text>
<text x="432.3" y="421.6" font-size="12.5" text-anchor="middle">20240529</text>
<text x="529.8" y="421.6" font-size="12.5" text-anchor="middle">20240620</text>
<text x="627.4" y="421.6" font-size="12.5" text-anchor="middle">20240711</text>
<text x="724.9" y="421.6" font-size="12.5" text-anchor="middle">20240801</text>
<text x="816.0" y="421.6" font-size="12.5" text-anchor="middle">20240822</text>
</g>
<text transform="translate(385.3 21.8) scale(0.94 1)" font-size="17.5" fill="#333">ST</text>
<text x="404.5" y="22.8" font-size="18" fill="#333" style="font-family:'Liberation Sans','Noto Sans CJK SC',sans-serif">亚联</text>
<text x="445" y="21.8" font-size="17.5" fill="#333">002316</text>
<rect x="519.2" y="9" width="1" height="13" fill="#ececec"/>
<text x="535.7" y="22.9" font-size="18" fill="#333" style="font-family:'Liberation Sans','Noto Sans CJK SC',sans-serif">日</text>
<text x="554.6" y="21.8" font-size="17.5" fill="#333">K</text>
<g><line x1="284.0" x2="309.0" y1="468.3" y2="468.3" stroke="#3a0589" stroke-width="2" opacity="0.7"/>
<circle cx="296.5" cy="468.2" r="5.5" fill="#fff" stroke="#3a0589" stroke-width="2"/>
<text transform="translate(313.9 472) scale(1.1 1)" font-size="12.2" fill="#333">MA5</text></g>
<g><line x1="352.0" x2="377.0" y1="468.3" y2="468.3" stroke="#d86600" stroke-width="2" opacity="0.7"/>
<circle cx="364.5" cy="468.2" r="5.5" fill="#fff" stroke="#d86600" stroke-width="2"/>
<text transform="translate(381.5 472) scale(1.1 1)" font-size="12.2" fill="#333">MA10</text></g>
<g><line x1="427.4" x2="452.4" y1="468.3" y2="468.3" stroke="#c20c7c" stroke-width="2" opacity="0.7"/>
<circle cx="439.9" cy="468.2" r="5.5" fill="#fff" stroke="#c20c7c" stroke-width="2"/>
<text transform="translate(457.0 472) scale(1.1 1)" font-size="12.2" fill="#333">MA30</text></g>
<g><line x1="502.7" x2="527.7" y1="468.3" y2="468.3" stroke="#006470" stroke-width="2" opacity="0.7"/>
<circle cx="515.2" cy="468.2" r="5.5" fill="#fff" stroke="#006470" stroke-width="2"/>
<text transform="translate(532.3 472) scale(1.1 1)" font-size="12.2" fill="#333">MA60</text></g>
<text x="358.9" y="512.4" font-size="14.15" fill="#666" style="font-family:'Liberation Sans','Noto Sans CJK SC',sans-serif">数据来源：</text>
<text x="433.8" y="512.4" font-size="14.15" fill="#666" style="font-family:'Liberation Sans','Noto Sans CJK SC',sans-serif">恒生聚源</text>
</svg></div></body></html>
